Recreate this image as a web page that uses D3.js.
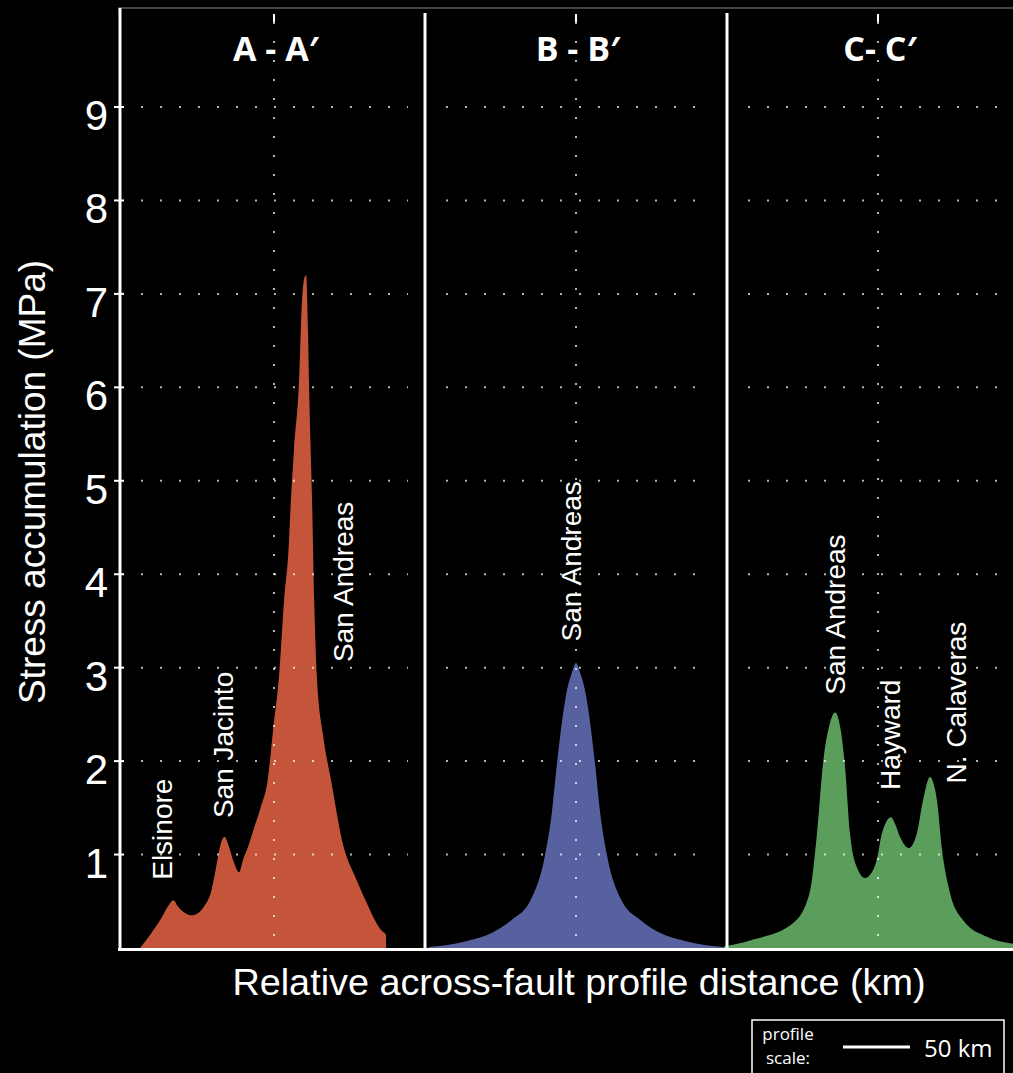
<!DOCTYPE html>
<html>
<head>
<meta charset="utf-8">
<script src="https://d3js.org/d3.v7.min.js"></script>
<style>
  html, body { margin: 0; padding: 0; background: #000; }
  svg { display: block; }
  .tick-label { font-family: "Liberation Sans", Arial, sans-serif; fill: #fff; }
  .fault { font-family: "Liberation Sans", Arial, sans-serif; fill: #fff; font-size: 28px; }
  .title { font-family: "Open Sans", sans-serif; font-weight: 700; fill: #fff; font-size: 34px; }
</style>
</head>
<body>
<div id="chart"></div>
<script>
// profile panels
var panels = ["A", "B", "C"];
var titles = ["A - A\u2032", "B - B\u2032", "C- C\u2032"];
var colors = ["#c4553b", "#5861a0", "#5b9d5b"];

// across-fault distance (km, relative to profile centre) and stress (MPa)
var distA = [-100, -92, -84, -78, -75, -72, -67, -62, -57, -52, -47, -43, -40, -37, -34, -30, -26, -23, -19.4, -15, -10, -4.5, -0.7, 3.7, 7.5, 11.2, 11.9, 14.9, 18.7, 20.9, 23.1, 24, 25.4, 26.1, 28.4, 30, 32, 36.6, 42.5, 52, 60, 67, 80, 83.6, 83.7];
var stressA = [0, 0.15, 0.32, 0.47, 0.51, 0.45, 0.38, 0.35, 0.37, 0.45, 0.6, 0.88, 1.1, 1.19, 1.1, 0.92, 0.81, 0.95, 1.08, 1.28, 1.5, 1.82, 2.33, 2.9, 3.72, 4.36, 4.58, 5.33, 6.07, 6.93, 7.19, 7.2, 6.6, 6.07, 4.8, 3.72, 2.9, 2.28, 1.8, 1.08, 0.78, 0.55, 0.19, 0.14, 0];

var distB = [-110, -97, -80, -63, -48, -34, -23, -18, -14, -7.5, -3, 0, 3, 7.5, 14, 18, 23, 34, 48, 63, 80, 97, 110];
var stressB = [0.01, 0.03, 0.08, 0.16, 0.3, 0.51, 1.0, 1.45, 2.0, 2.7, 2.95, 3.05, 2.95, 2.7, 2.0, 1.45, 1.0, 0.51, 0.3, 0.16, 0.08, 0.03, 0.01];

var distC = [-115, -110, -93, -63, -51, -45.5, -41, -36, -32, -28, -24.6, -20.9, -15.9, -9.7, -5, -1, 3, 9.7, 13, 16.4, 23.1, 29.1, 33.6, 38.8, 41, 44, 47.8, 53.7, 63.4, 81.3, 98.5, 115];
var stressC = [0.02, 0.03, 0.09, 0.27, 0.59, 1.23, 1.98, 2.4, 2.52, 2.35, 1.94, 1.23, 0.87, 0.75, 0.8, 0.94, 1.23, 1.4, 1.32, 1.19, 1.07, 1.23, 1.58, 1.83, 1.78, 1.58, 1.05, 0.59, 0.3, 0.12, 0.05, 0.03];

var yTicks = [1, 2, 3, 4, 5, 6, 7, 8, 9];

// fault name labels: panel, distance (km), stress at the start of the text (MPa)
var faultNames = ["Elsinore", "San Jacinto", "San Andreas", "San Andreas", "San Andreas", "Hayward", "N. Calaveras"];
var faultPanel = ["A", "A", "A", "B", "C", "C", "C"];
var faultDist = [-76, -30.6, 59, 3.7, -24.6, 16.4, 65.7];
var faultStress = [0.73, 1.39, 3.06, 3.28, 2.71, 1.69, 1.76];

var W = 1013, H = 1073;
var margin = {top: 8, left: 120, bottom: 948};

var svg = d3.select("#chart").append("svg")
    .attr("width", W)
    .attr("height", H);

var y = d3.scaleLinear().domain([0, 9]).range([margin.bottom, 107]);

// centre of each profile panel
var centre = d3.scalePoint().domain(panels).range([274, 878]);
var pxPerKm = 67 / 50;
var xKm = function(p) {
  var c = centre(p);
  return d3.scaleLinear().domain([-50, 50]).range([c - 50 * pxPerKm, c + 50 * pxPerKm]);
};
var panelLeft = function(i) { return i == 0 ? margin.left : (centre(panels[i - 1]) + centre(panels[i])) / 2; };
var panelRight = function(i) { return i == panels.length - 1 ? W + 20 : (centre(panels[i]) + centre(panels[i + 1])) / 2; };

var profiles = [
  {dist: distA, stress: stressA},
  {dist: distB, stress: stressB},
  {dist: distC, stress: stressC}
];

// filled profiles
panels.forEach(function(p, i) {
  var x = xKm(p);
  var pts = profiles[i].dist.map(function(d, j) { return [d, profiles[i].stress[j]]; });
  var area = d3.area()
      .curve(d3.curveMonotoneX)
      .x(function(d) { return x(d[0]); })
      .y0(y(0))
      .y1(function(d) { return y(d[1]); });
  svg.append("path")
      .datum(pts)
      .attr("fill", colors[i])
      .attr("d", area);
});

// dotted grid
var grid = svg.append("g").attr("stroke", "#fff").attr("stroke-opacity", 0.7)
    .attr("stroke-width", 2).attr("stroke-dasharray", "2,17");
panels.forEach(function(p, i) {
  var x0 = panelLeft(i) + 21, x1 = Math.min(panelRight(i) - 17, W);
  grid.selectAll(null)
      .data(yTicks)
    .enter().append("line")
      .attr("x1", x0).attr("x2", x1)
      .attr("y1", function(d) { return y(d); })
      .attr("y2", function(d) { return y(d); });
  grid.append("line")
      .attr("x1", centre(p)).attr("x2", centre(p))
      .attr("y1", 22).attr("y2", margin.bottom);
  svg.append("line")
      .attr("x1", centre(p)).attr("x2", centre(p))
      .attr("y1", 14).attr("y2", 22)
      .attr("stroke", "#fff").attr("stroke-width", 2);
});

// frame
svg.append("line")
    .attr("x1", margin.left - 2).attr("x2", W)
    .attr("y1", margin.top).attr("y2", margin.top)
    .attr("stroke", "#5a5a5a").attr("stroke-width", 1.5);
svg.append("line")
    .attr("x1", margin.left).attr("x2", margin.left)
    .attr("y1", margin.top).attr("y2", margin.bottom + 3)
    .attr("stroke", "#fff").attr("stroke-width", 3);
[1, 2].forEach(function(i) {
  svg.append("line")
      .attr("x1", panelLeft(i)).attr("x2", panelLeft(i))
      .attr("y1", 13).attr("y2", margin.bottom)
      .attr("stroke", "#fff").attr("stroke-width", 3);
});
svg.append("line")
    .attr("x1", margin.left - 2).attr("x2", W)
    .attr("y1", margin.bottom + 1.5).attr("y2", margin.bottom + 1.5)
    .attr("stroke", "#fff").attr("stroke-width", 3);

// y axis ticks and labels
svg.selectAll(".ytick")
    .data(yTicks)
  .enter().append("line")
    .attr("class", "ytick")
    .attr("x1", margin.left - 6).attr("x2", margin.left + 4)
    .attr("y1", function(d) { return y(d); })
    .attr("y2", function(d) { return y(d); })
    .attr("stroke", "#fff").attr("stroke-width", 2);
svg.selectAll(".tick-label")
    .data(yTicks)
  .enter().append("text")
    .attr("class", "tick-label")
    .attr("x", 108)
    .attr("y", function(d) { return y(d) + 23; })
    .attr("text-anchor", "end")
    .style("font-size", "42px")
    .text(function(d) { return d; });

// axis titles
svg.append("text")
    .attr("class", "tick-label")
    .attr("transform", "translate(45," + 482 + ") rotate(-90)")
    .attr("text-anchor", "middle")
    .style("font-size", "37px")
    .text("Stress accumulation (MPa)");
svg.append("text")
    .attr("class", "tick-label")
    .attr("x", 579).attr("y", 995)
    .attr("text-anchor", "middle")
    .style("font-size", "37.8px")
    .text("Relative across-fault profile distance (km)");

// panel titles
svg.selectAll(".title")
    .data(panels)
  .enter().append("text")
    .attr("class", "title")
    .attr("x", function(d) { return centre(d) + 2; })
    .attr("y", 61)
    .attr("text-anchor", "middle")
    .text(function(d, i) { return titles[i]; });

// fault labels
faultNames.forEach(function(name, i) {
  var x = xKm(faultPanel[i]);
  svg.append("text")
      .attr("class", "fault")
      .attr("transform", "translate(" + x(faultDist[i]) + "," + y(faultStress[i]) + ") rotate(-90)")
      .text(name);
});

// profile scale box
var lg = svg.append("g").attr("transform", "translate(752,1020)");
lg.append("rect")
    .attr("width", 252).attr("height", 70)
    .attr("fill", "none").attr("stroke", "#fff").attr("stroke-width", 1.5);
lg.selectAll(".scale-word")
    .data(["profile", "scale:"])
  .enter().append("text")
    .attr("class", "scale-word")
    .attr("x", 36)
    .attr("y", function(d, i) { return 20 + i * 23.5; })
    .attr("text-anchor", "middle")
    .style("font-family", "'Open Sans', sans-serif").style("font-size", "17px").attr("fill", "#fff")
    .text(function(d) { return d; });
var sx = xKm("C");
lg.append("line")
    .attr("x1", 91).attr("x2", 91 + sx(50) - sx(0))
    .attr("y1", 27).attr("y2", 27)
    .attr("stroke", "#fff").attr("stroke-width", 3);
lg.append("text")
    .attr("x", 172).attr("y", 37)
    .style("font-family", "'Open Sans', sans-serif").style("font-size", "24px").attr("fill", "#fff")
    .text("50 km");
</script>
</body>
</html>
